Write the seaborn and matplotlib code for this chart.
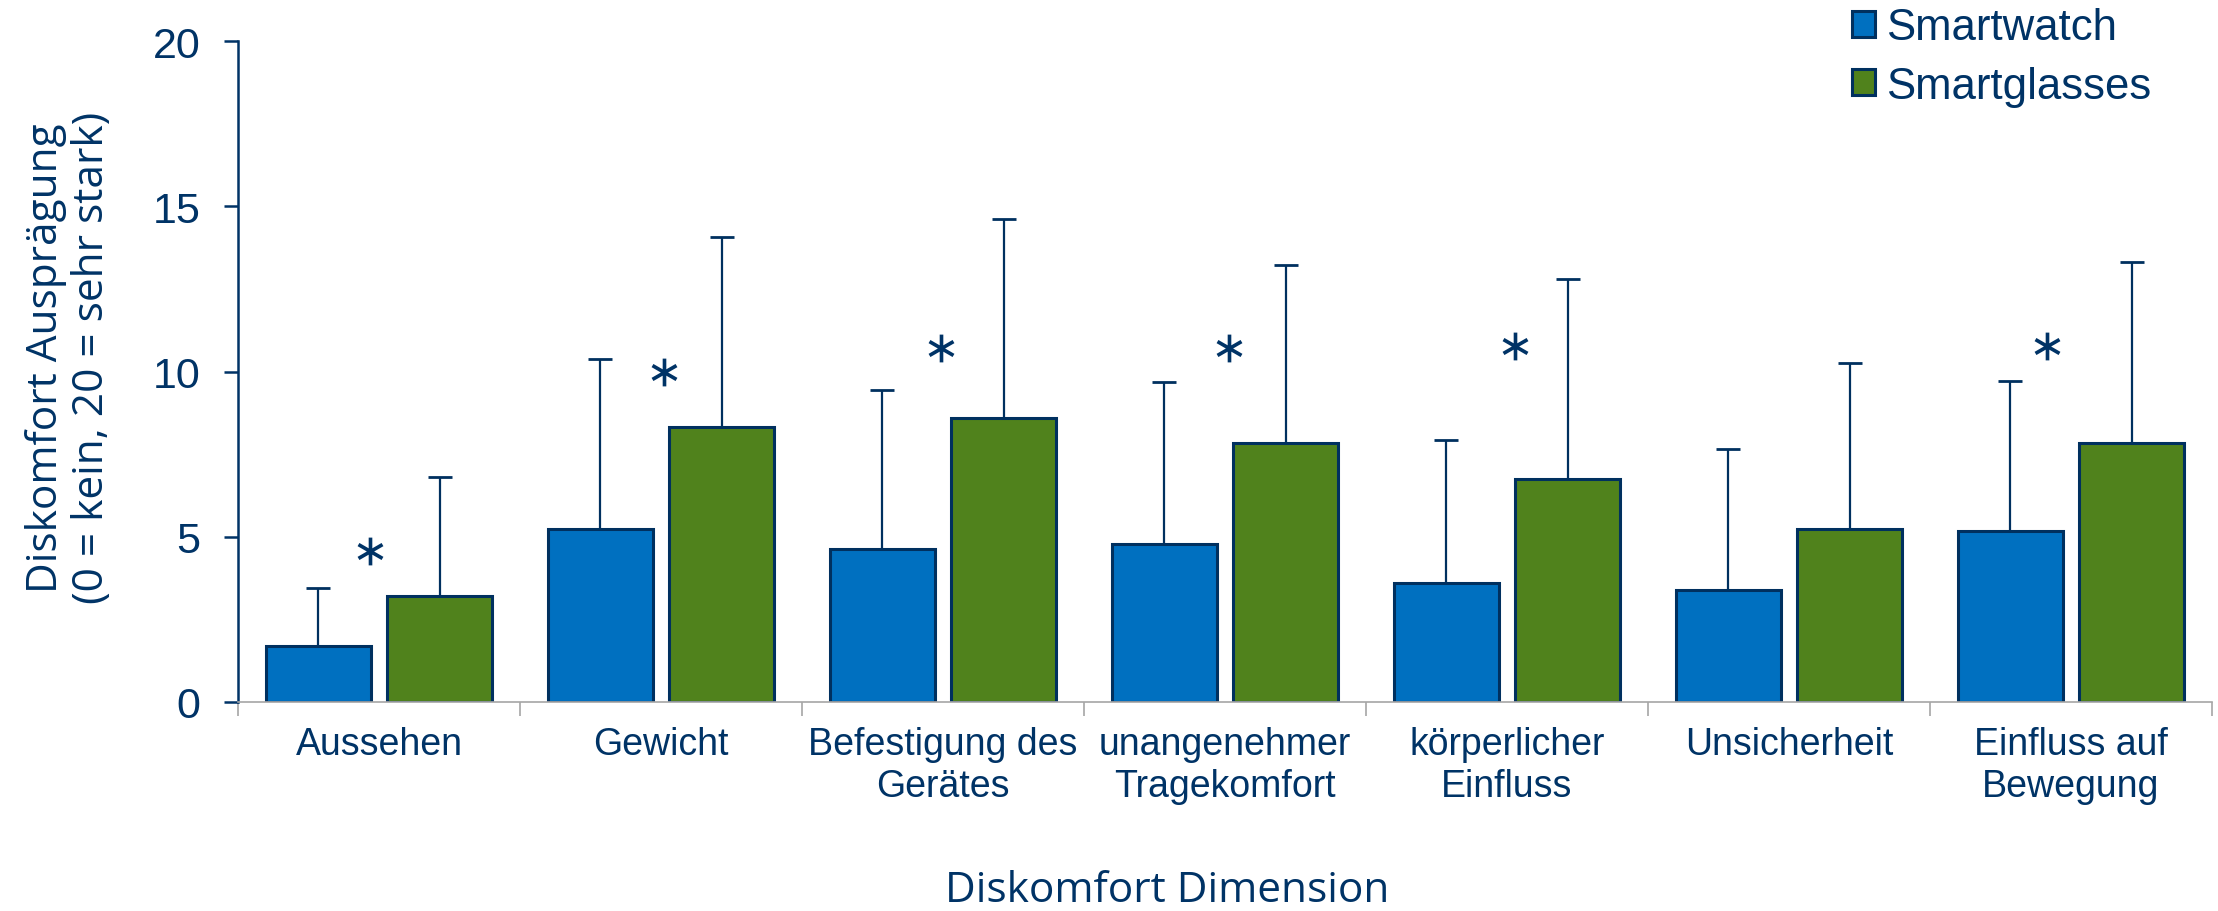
import matplotlib
matplotlib.use("Agg")
import matplotlib.pyplot as plt
from matplotlib.patches import Patch
from matplotlib.ticker import FixedLocator
import numpy as np
import pandas as pd
import seaborn as sns

# Discomfort dimensions (x axis)
categories = [
    "Aussehen",
    "Gewicht",
    "Befestigung des\nGerätes",
    "unangenehmer\nTragekomfort",
    "körperlicher\nEinfluss",
    "Unsicherheit",
    "Einfluss auf\nBewegung",
]
devices = ["Smartwatch", "Smartglasses"]

# Mean discomfort (0-20) and standard deviation per device
smartwatch_mean = [1.68, 5.23, 4.62, 4.77, 3.60, 3.40, 5.17]
smartwatch_sd = [1.78, 5.15, 4.82, 4.92, 4.32, 4.26, 4.54]
smartglasses_mean = [3.22, 8.31, 8.58, 7.85, 6.74, 5.23, 7.84]
smartglasses_sd = [3.60, 5.76, 6.05, 5.36, 6.05, 5.04, 5.46]

# Significant differences between the devices
significant = [True, True, True, True, True, False, True]
y_ticks = [0, 5, 10, 15, 20]

# Placement of the significance markers (offset from group centre, height)
star_dx = [-0.032, 0.012, -0.007, 0.014, 0.03, 0.0, -0.085]
star_y = [4.57, 10.0, 10.72, 10.72, 10.76, 0.0, 10.76]

NAVY = "#003366"
EDGE = "#00305F"
BLUE = "#0070C0"
GREEN = "#50821C"
GREY = "#A6A6A6"

sns.set_theme(style="white")
plt.rcParams["font.family"] = ["Liberation Sans", "DejaVu Sans"]
plt.rcParams["text.color"] = NAVY

df = pd.DataFrame({
    "Dimension": categories * 2,
    "Gerät": [devices[0]] * len(categories) + [devices[1]] * len(categories),
    "Wert": smartwatch_mean + smartglasses_mean,
})

fig = plt.figure(figsize=(22.18, 9.12), dpi=100)
ax = fig.add_axes([0.1073, 0.2292, 0.89, 0.7247])

sns.barplot(
    data=df, x="Dimension", y="Wert", hue="Gerät",
    order=categories, hue_order=devices,
    palette=[BLUE, GREEN], width=0.86, gap=0.133,
    edgecolor=EDGE, linewidth=2.2, errorbar=None,
    legend=False, ax=ax, saturation=1,
)

# One-sided (upward) standard deviation whiskers
for container, sd in zip(ax.containers, [smartwatch_sd, smartglasses_sd]):
    xs = [p.get_x() + p.get_width() / 2 for p in container.patches]
    ys = [p.get_height() for p in container.patches]
    ax.errorbar(xs, ys, yerr=[np.zeros(len(sd)), sd], fmt="none",
                ecolor=EDGE, elinewidth=1.6, capsize=8.5, capthick=2.0,
                zorder=3)

# Significance asterisks
for i, sig in enumerate(significant):
    if sig:
        ax.plot(i + star_dx[i], star_y[i], marker=r"$\ast$", ms=20,
                color=NAVY, mew=0, linestyle="none", zorder=4)

ax.set_xlim(-0.5, len(categories) - 0.5)
ax.set_ylim(0, 20)
ax.set_yticks(y_ticks)

for side in ("top", "right"):
    ax.spines[side].set_visible(False)
ax.spines["left"].set_color(NAVY)
ax.spines["left"].set_linewidth(1.8)
ax.spines["bottom"].set_color(GREY)
ax.spines["bottom"].set_linewidth(1.2)

ax.tick_params(axis="y", which="major", direction="out", length=10,
               width=1.8, color=NAVY, labelsize=31, labelcolor=NAVY, pad=17,
               left=True)
ax.tick_params(axis="x", which="major", length=0, labelsize=27,
               labelcolor=NAVY, pad=17)
ax.xaxis.set_minor_locator(FixedLocator(np.arange(-0.5, len(categories), 1.0)))
ax.tick_params(axis="x", which="minor", direction="out", length=10,
               width=1.2, color=GREY, bottom=True)
for lbl in ax.get_xticklabels():
    lbl.set_horizontalalignment("center")
    lbl.set_multialignment("center")
    lbl.set_linespacing(1.22)

ax.set_xlabel("Diskomfort Dimension", fontsize=30.5, color=NAVY,
              family=["Open Sans", "DejaVu Sans"])
ax.xaxis.set_label_coords(0.4706, -0.285)
ax.xaxis.label.set_verticalalignment("center")
ax.set_ylabel("Diskomfort Ausprägung\n(0 = kein, 20 = sehr stark)",
              fontsize=30.5, color=NAVY, family=["Open Sans", "DejaVu Sans"],
              linespacing=1.15)
ax.yaxis.set_label_coords(-0.0856, 0.522)
ax.yaxis.label.set_verticalalignment("center")

handles = [Patch(facecolor=BLUE, edgecolor=EDGE, linewidth=2.2),
           Patch(facecolor=GREEN, edgecolor=EDGE, linewidth=2.2)]
fig.legend(handles, devices, loc="upper left", bbox_to_anchor=(0.835, 0.991),
           frameon=False, fontsize=31.5, handlelength=0.53, handleheight=0.53,
           handletextpad=0.25, labelspacing=0.4, borderpad=0,
           borderaxespad=0, labelcolor=NAVY)

fig.savefig("out.png", dpi=100)
